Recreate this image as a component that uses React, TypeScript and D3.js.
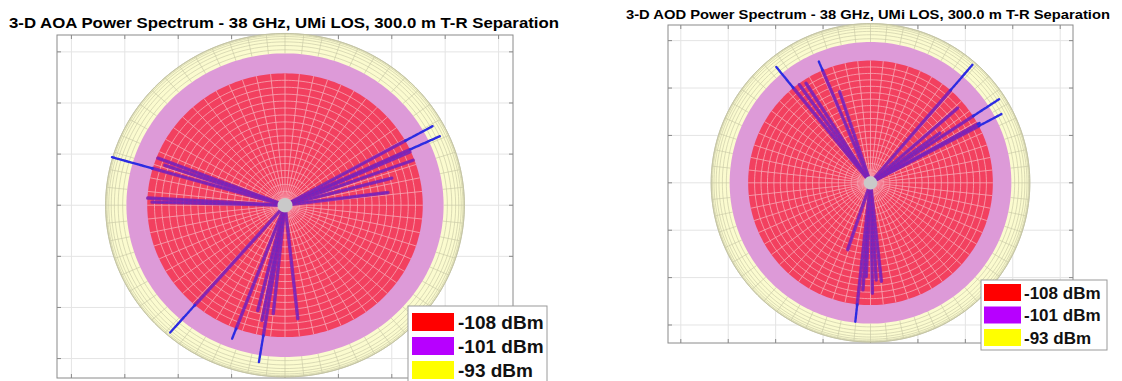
import React, { useEffect } from 'react';
import * as d3 from 'd3';

// ---- data ----
const sphereRadii = [2.58, 2.97, 3.36]; // -108, -101, -93 dBm spheres (data units)
const legendLabels = ['-108 dBm', '-101 dBm', '-93 dBm'];
const xTicks = [-4, -3, -2, -1, 0, 1, 2, 3, 4];
const yTicks = [-3, -2, -1, 0, 1, 2, 3];
const xDomain = [-4.27, 4.27];
const yDomain = [-3.38, 3.33];
const titles = [
  '3-D AOA Power Spectrum - 38 GHz, UMi LOS, 300.0 m T-R Separation',
  '3-D AOD Power Spectrum - 38 GHz, UMi LOS, 300.0 m T-R Separation',
];
// multipath component end points (data units)
const aoaRayX = [-3.24, -2.38, -2.25, -2.57, -2.49, 2.77, 2.9, 2.4, 2.34, 1.93, 2.0, -2.15, -0.99, -0.49, -0.51, -0.22, 0.24, -0.43];
const aoaRayY = [0.94, 0.92, 0.78, 0.14, 0.06, 1.55, 1.35, 0.88, 1.04, 0.25, 0.53, -2.49, -2.61, -3.08, -2.06, -2.12, -2.22, -2.25];
const aodRayX = [-1.99, -1.09, -1.5, -1.36, -0.65, 2.15, 2.72, 2.76, 1.84, 2.3, 1.46, -0.32, -0.48, 0.04, 0.23, -0.09, -0.16, 0.12];
const aodRayY = [2.45, 2.56, 2.07, 2.1, 1.92, 2.49, 1.77, 1.45, 1.58, 1.26, 1.05, -2.93, -1.41, -2.33, -2.08, -1.98, -2.26, -2.05];

// ---- styles ----
const FONT = '"Liberation Sans", Arial, Helvetica, sans-serif';
const RED = '#f2405f';
const PINK = '#dd9ad8';
const YELLOW = '#fbfbcf';
const legendColors = ['#ff0000', '#b700ff', '#ffff00'];

type Box = { x0: number; x1: number; y0: number; y1: number };
type Leg = { x: number; y: number; w: number; h: number; sx: number; sw: number; sh: number; rows: number[]; tx: number; fs: number };

function Panel(props: {
  box: Box; title: string; tx: number; ty: number; tfs: number; tlen: number;
  rayX: number[]; rayY: number[]; leg: Leg;
}) {
  const { box, title, tx, ty, tfs, tlen, rayX, rayY, leg } = props;
  const sx = d3.scaleLinear().domain(xDomain).range([box.x0, box.x1]);
  const sy = d3.scaleLinear().domain(yDomain).range([box.y1, box.y0]);
  const line = d3.line();
  const pt = (r: number, a: number): [number, number] => [sx(r * Math.cos(a)), sy(r * Math.sin(a))];
  const ring = (r: number, n = 240) =>
    (line(d3.range(n + 1).map((i) => pt(r, (2 * Math.PI * i) / n))) || '') + 'Z';
  const spoke = (a: number, r0: number, r1: number) => line([pt(r0, a), pt(r1, a)]) || '';

  const [redR, pinkR, yelR] = sphereRadii;

  const yelLat: number[] = [];
  for (let k = 1; k <= 25; k++) {
    const r = yelR * Math.sin((k * 3.6 * Math.PI) / 180);
    if (r > pinkR + 0.02) yelLat.push(r);
  }
  const yelMer = d3.range(60).map((i) => (i * 2 * Math.PI) / 60);
  const redRings = d3.range(1, 19).map((k) => (redR * k) / 19);
  const redMer = d3.range(60).map((i) => (i * 2 * Math.PI) / 60);

  const rays = rayX.map((x, i) => {
    const y = rayY[i];
    return { a: Math.atan2(y, x), len: Math.hypot(x, y) };
  });

  return (
    <g>
      <text x={tx} y={ty} fontFamily={FONT} fontWeight="bold" fontSize={tfs} textLength={tlen} lengthAdjust="spacingAndGlyphs" fill="#000">
        {title}
      </text>
      <g stroke="#e4e4e4" strokeWidth={1}>
        {xTicks.map((t) => (
          <line key={'gx' + t} x1={sx(t)} x2={sx(t)} y1={box.y0} y2={box.y1} />
        ))}
        {yTicks.map((t) => (
          <line key={'gy' + t} x1={box.x0} x2={box.x1} y1={sy(t)} y2={sy(t)} />
        ))}
      </g>
      <rect x={box.x0} y={box.y0} width={box.x1 - box.x0} height={box.y1 - box.y0} fill="none" stroke="#8a8a8a" strokeWidth={1} />
      <g stroke="#8a8a8a" strokeWidth={1}>
        {xTicks.map((t) => (
          <g key={'tx' + t}>
            <line x1={sx(t)} x2={sx(t)} y1={box.y0} y2={box.y0 + 4} />
            <line x1={sx(t)} x2={sx(t)} y1={box.y1} y2={box.y1 - 4} />
          </g>
        ))}
        {yTicks.map((t) => (
          <g key={'ty' + t}>
            <line x1={box.x0} x2={box.x0 + 4} y1={sy(t)} y2={sy(t)} />
            <line x1={box.x1} x2={box.x1 - 4} y1={sy(t)} y2={sy(t)} />
          </g>
        ))}
      </g>
      <path d={ring(yelR)} fill={YELLOW} stroke="#b8b89a" strokeWidth={0.8} />
      <g stroke="#c4c4a2" strokeWidth={0.6} fill="none">
        {yelLat.map((r, i) => (
          <path key={'yl' + i} d={ring(r)} />
        ))}
        {yelMer.map((a, i) => (
          <path key={'ym' + i} d={spoke(a, pinkR, yelR)} />
        ))}
      </g>
      <path d={ring(pinkR)} fill={PINK} stroke="none" />
      <path d={ring(redR)} fill={RED} stroke="none" />
      <g stroke="#f8bcc6" strokeWidth={0.8} fill="none" opacity={0.85}>
        {redRings.map((r, i) => (
          <path key={'rr' + i} d={ring(r)} />
        ))}
        {redMer.map((a, i) => (
          <path key={'rm' + i} d={spoke(a, 0.05, redR)} />
        ))}
      </g>
      <g fill="none" strokeLinecap="round">
        {rays.map((r, i) => (
          <g key={'ray' + i}>
            <path d={spoke(r.a, 0.1, Math.min(r.len, redR))} stroke="#8420b2" strokeWidth={3.4} opacity={0.9} />
            <path d={spoke(r.a, 0.1, Math.min(r.len, redR))} stroke="#5030d0" strokeWidth={1} strokeDasharray="2 2" opacity={0.55} />
            {r.len > redR && (
              <path d={spoke(r.a, redR, r.len)} stroke="#2c2ce2" strokeWidth={2.4} strokeDasharray="3 1" />
            )}
          </g>
        ))}
      </g>
      <path d={ring(0.14, 60)} fill="#c9c9c9" stroke="none" />
      <rect x={leg.x} y={leg.y} width={leg.w} height={leg.h} fill="#ffffff" stroke="#9a9a9a" strokeWidth={1} />
      {legendLabels.map((lab, i) => (
        <g key={'lg' + i}>
          <rect x={leg.sx} y={leg.rows[i]} width={leg.sw} height={leg.sh} fill={legendColors[i]} />
          <text x={leg.tx} y={leg.rows[i] + leg.sh / 2} dy="0.36em" fontFamily={FONT} fontWeight="bold" fontSize={leg.fs} fill="#111">
            {lab}
          </text>
        </g>
      ))}
    </g>
  );
}

export default function App() {
  useEffect(() => {
    document.body.style.margin = '0';
  }, []);
  return (
    <svg width={1122} height={381} style={{ position: 'absolute', left: 0, top: 0, background: '#fff' }}>
      <rect x={0} y={0} width={1122} height={381} fill="#fff" />
      <Panel
        box={{ x0: 57, x1: 513, y0: 35, y1: 378 }}
        title={titles[0]}
        tx={9}
        ty={28}
        tfs={14.5}
        tlen={550}
        rayX={aoaRayX}
        rayY={aoaRayY}
        leg={{ x: 408, y: 306, w: 139, h: 80, sx: 412, sw: 42, sh: 18, rows: [313, 337, 361], tx: 458, fs: 19 }}
      />
      <Panel
        box={{ x0: 668, x1: 1073, y0: 25, y1: 343 }}
        title={titles[1]}
        tx={626}
        ty={19}
        tfs={12.6}
        tlen={484}
        rayX={aodRayX}
        rayY={aodRayY}
        leg={{ x: 981, y: 280, w: 126, h: 70, sx: 984, sw: 37, sh: 17, rows: [284, 306.5, 329], tx: 1024, fs: 17 }}
      />
    </svg>
  );
}
